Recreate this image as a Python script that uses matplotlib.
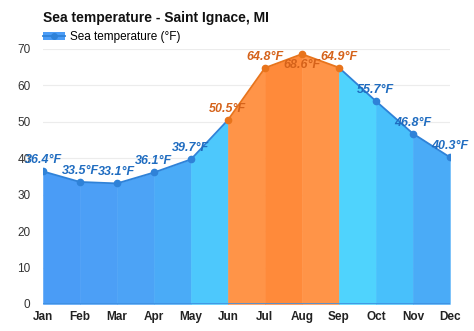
import numpy as np
import matplotlib
matplotlib.use("Agg")
import matplotlib.pyplot as plt
from matplotlib.lines import Line2D
from matplotlib.patches import Patch

plt.rcParams['font.family'] = ['Liberation Sans', 'DejaVu Sans']

# data
months = ['Jan', 'Feb', 'Mar', 'Apr', 'May', 'Jun',
          'Jul', 'Aug', 'Sep', 'Oct', 'Nov', 'Dec']
temps = [36.4, 33.5, 33.1, 36.1, 39.7, 50.5, 64.8, 68.6, 64.9, 55.7, 46.8, 40.3]
warm = [False, False, False, False, False, True, True, True, True, False, False, False]

# fill colour of each month-to-month band
seg_colors = ['#4a9cf6', '#4c9ff6', '#4ca3f6', '#4aabf7', '#4dc8fc',
              '#ff9448', '#ff8a3a', '#ff9448', '#4fd3fd', '#48c0fb', '#4aabf7']
blue_line = '#2f82d8'
orange_line = '#e8741c'
blue_text = '#1f6cc0'
orange_text = '#d5621a'

x = np.arange(len(months))

fig = plt.figure(figsize=(4.74, 3.31), dpi=100)
ax = fig.add_axes([0.0907, 0.0816, 0.8583, 0.7704])

for i in range(len(months) - 1):
    ax.fill_between(x[i:i + 2], temps[i:i + 2], 0, facecolor=seg_colors[i],
                    edgecolor=seg_colors[i], linewidth=0.4, zorder=2)
    summer = warm[i] and warm[i + 1]
    ax.plot(x[i:i + 2], temps[i:i + 2], color=orange_line if summer else blue_line,
            linewidth=1.3, zorder=3)

for i in range(len(months)):
    c = orange_line if warm[i] else blue_line
    ax.plot(x[i], temps[i], 'o', color=c, markersize=4.5, zorder=4)
    tc = orange_text if warm[i] else blue_text
    dy = -11 if i == 7 else 11
    ax.annotate('%.1f°F' % temps[i], (x[i], temps[i]), xytext=(0, dy),
                textcoords='offset pixels', ha='center', va='center',
                fontsize=9, fontweight='bold', fontstyle='italic', color=tc,
                zorder=5)

ax.set_xlim(0, 11)
ax.set_ylim(0, 70)
ax.set_yticks(range(0, 71, 10))
ax.set_xticks(x)
ax.set_xticklabels(months, fontweight='bold', fontsize=8.5, color='#222222')
ax.tick_params(axis='y', length=0, pad=9, labelsize=8.5, labelcolor='#333333')
ax.tick_params(axis='x', length=0, pad=5)
ax.grid(axis='y', color='#ececec', linewidth=0.8, zorder=0)
for s in ax.spines.values():
    s.set_visible(False)
ax.axhline(0, color='#3f8fe0', linewidth=1.2, zorder=3)

fig.text(0.0907, 0.945, 'Sea temperature - Saint Ignace, MI', fontsize=10,
         fontweight='bold', color='#111111', va='center')

handle = (Patch(facecolor='#4a9cf6', edgecolor='none'),
          Line2D([], [], color=blue_line, marker='o', markersize=4, linewidth=1.3))
fig.legend([handle], ['Sea temperature (°F)'], loc='center left',
           bbox_to_anchor=(0.068, 0.888), frameon=False, fontsize=8.5,
           handlelength=1.9, handletextpad=0.4)

fig.savefig('out.png', dpi=100)
